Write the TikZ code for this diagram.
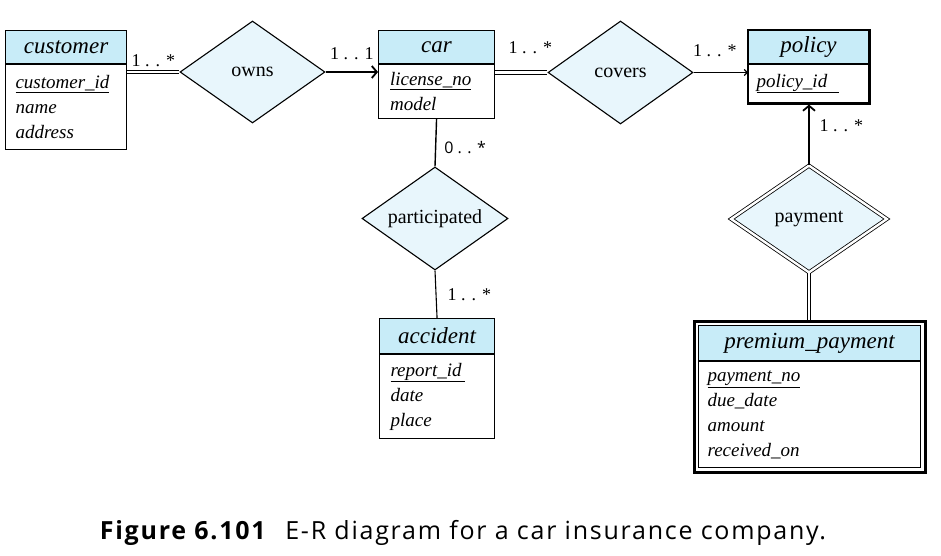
\documentclass[tikz,border=0pt]{standalone}
\usepackage{fontspec}
\setmainfont{Liberation Serif}
\newfontfamily\capfont[LetterSpace=7]{Open Sans}
\newfontfamily\cardfont{Open Sans}
\usetikzlibrary{shapes.geometric,arrows.meta,fit}
\definecolor{head-blue}{RGB}{200,236,248}
\definecolor{rel-blue}{RGB}{232,246,252}
\tikzset{
    entity-head/.style = {draw, line width=1.1pt, fill=head-blue, inner sep=0pt, anchor=north west, font=\fontsize{23}{26}\selectfont\itshape},
    entity-body/.style = {draw, line width=1.1pt, fill=white, inner xsep=10pt, inner ysep=0pt, anchor=north, align=left, font=\fontsize{19}{25}\selectfont\itshape},
    entity-frame/.style = {draw, line width=2.8pt, inner sep=0pt},
    relation/.style = {diamond, draw, line width=1.1pt, fill=rel-blue, aspect=1.5, inner sep=0pt, font=\fontsize{20}{24}\selectfont},
    weak-relation/.style = {relation, double, double distance=2.4pt, line width=0.8pt},
    link/.style = {line width=1.1pt},
    total-link/.style = {double, double distance=2.4pt, line width=0.9pt},
    card/.style = {font=\fontsize{18}{20}\selectfont, inner sep=2pt},
    bold-tip/.style = {-{Straight Barb[length=5pt,width=12pt,line width=1.8pt]}},
}

\begin{document}
\begin{tikzpicture}[x=1pt, y=-1pt]
\useasboundingbox (0,0) rectangle (941,556);

\node[entity-head, minimum width=121pt, minimum height=33pt] (customer) at (5,30) {customer};
\node[entity-body, text width=101pt, minimum height=85pt] (customer-attr) at (customer.south) {\underline{customer\_id}\\ name\\ address};

\node[entity-head, minimum width=116pt, minimum height=33pt] (car) at (378,30) {car};
\node[entity-body, text width=93pt, inner xsep=11.5pt, minimum height=54pt] (car-attr) at (car.south) {\underline{license\_no}\\ model};

\node[entity-head, minimum width=120pt, minimum height=33pt] (policy) at (748,30) {policy};
\node[entity-body, text width=104pt, inner xsep=8pt, minimum height=38pt] (policy-attr) at (policy.south) {\underline{policy\_id\hspace{12pt}}};
\node[entity-frame, fit=(policy)(policy-attr)] (policy-frame) {};

\node[entity-head, minimum width=115pt, minimum height=35pt] (accident) at (379,318) {accident};
\node[entity-body, text width=93pt, inner xsep=11pt, minimum height=84pt] (accident-attr) at (accident.south) {\underline{report\_id\hspace{3pt}}\\ date\\ place};

\node[entity-head, minimum width=222pt, minimum height=35pt] (premium) at (698,325) {premium\_payment};
\node[entity-body, text width=204pt, inner xsep=9pt, minimum height=106pt] (premium-attr) at (premium.south) {\underline{payment\_no}\\ due\_date\\ amount\\ received\_on};
\node[entity-frame, line width=3pt, fit=(premium)(premium-attr), inner sep=4pt] (premium-frame) {};

\node[relation, minimum width=145pt, minimum height=102pt] (owns) at (252.5,72) {owns};
\node[relation, minimum width=145pt, minimum height=103pt] (covers) at (620.5,72.5) {covers};
\node[relation, minimum width=146pt, minimum height=103pt] (participated) at (435,218.5) {participated};
\node[weak-relation, minimum width=156pt, minimum height=107pt] (payment) at (809,219) {payment};

\draw[total-link] (owns.west -| customer-attr.east) -- node[card, above=3pt] {1 . . *} (owns.west);
\draw[link, bold-tip] (owns.east) -- node[card, above=10pt] {1 . . 1} (owns.east -| car-attr.west);
\draw[total-link] (covers.west -| car-attr.east) -- node[card, above=16pt, xshift=9pt] {1 . . *} (covers.west);
\draw[link, -{Straight Barb[length=3pt,width=6pt]}] (covers.east) -- node[card, above=13pt, xshift=-6pt] {1 . . *} (covers.east -| policy-attr.west);
\draw[link, bold-tip] (payment.north) -- node[card, right=8pt, pos=0.65] {1 . . *} (payment.north |- policy-frame.south);
\draw[link, line width=1.4pt] (car-attr.south) -- node[card, right=6pt, pos=0.6, font=\cardfont\fontsize{16}{20}\selectfont] {0 . . *} (participated.north);
\draw[link] (participated.south) -- node[card, right=9pt] {1 . . *} (accident.north);
\draw[total-link] (payment.south) -- (premium-frame.north -| payment.south);

\node[font=\capfont\fontsize{25}{28}\selectfont] (caption) at (463,533) {\textbf{Figure 6.101}\hspace{18pt}E-R diagram for a car insurance company.};
\end{tikzpicture}
\end{document}
